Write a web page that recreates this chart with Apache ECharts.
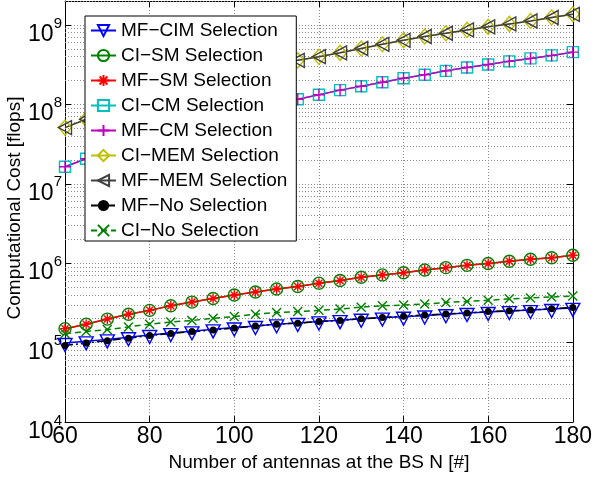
<!DOCTYPE html>
<html><head><meta charset="utf-8">
<script src="https://cdn.jsdelivr.net/npm/echarts@6/dist/echarts.min.js"></script>
<style>html,body{margin:0;padding:0;background:#fff}#c{width:595px;height:477px}</style>
</head><body><div id="c"></div>
<script>
const antennas = [60,65,70,75,80,85,90,95,100,105,110,115,120,125,130,135,140,145,150,155,160,165,170,175,180];
const mfCim = [9.9e4,1.04e5,1.10e5,1.17e5,1.25e5,1.32e5,1.39e5,1.47e5,1.55e5,1.62e5,1.70e5,1.77e5,1.85e5,1.92e5,2.00e5,2.07e5,2.12e5,2.20e5,2.28e5,2.36e5,2.43e5,2.50e5,2.57e5,2.65e5,2.74e5];
const ciSm = [1.50e5,1.71e5,1.98e5,2.28e5,2.55e5,2.91e5,3.24e5,3.59e5,3.98e5,4.34e5,4.73e5,5.10e5,5.61e5,6.05e5,6.65e5,7.13e5,7.60e5,8.20e5,8.80e5,9.40e5,9.90e5,1.06e6,1.12e6,1.17e6,1.26e6];
const mfSm = [1.50e5,1.71e5,1.98e5,2.28e5,2.55e5,2.91e5,3.24e5,3.59e5,3.98e5,4.34e5,4.73e5,5.10e5,5.61e5,6.05e5,6.65e5,7.13e5,7.60e5,8.20e5,8.80e5,9.40e5,9.90e5,1.06e6,1.12e6,1.17e6,1.26e6];
const ciCm = [1.64e7,2.07e7,2.60e7,3.20e7,3.89e7,4.66e7,5.54e7,6.51e7,7.59e7,8.79e7,1.01e8,1.16e8,1.32e8,1.51e8,1.69e8,1.90e8,2.13e8,2.36e8,2.64e8,2.91e8,3.17e8,3.48e8,3.79e8,4.13e8,4.54e8];
const mfCm = [1.64e7,2.07e7,2.60e7,3.20e7,3.89e7,4.66e7,5.54e7,6.51e7,7.59e7,8.79e7,1.01e8,1.16e8,1.32e8,1.51e8,1.69e8,1.90e8,2.13e8,2.36e8,2.64e8,2.91e8,3.17e8,3.48e8,3.79e8,4.13e8,4.54e8];
const ciMem = [5.1e7,6.5e7,8.0e7,9.9e7,1.20e8,1.44e8,1.70e8,2.00e8,2.34e8,2.71e8,3.11e8,3.58e8,3.98e8,4.45e8,5.05e8,5.70e8,6.40e8,7.15e8,7.85e8,8.65e8,9.45e8,1.03e9,1.12e9,1.24e9,1.36e9];
const mfMem = [5.1e7,6.5e7,8.0e7,9.9e7,1.20e8,1.44e8,1.70e8,2.00e8,2.34e8,2.71e8,3.11e8,3.58e8,3.98e8,4.45e8,5.05e8,5.70e8,6.40e8,7.15e8,7.85e8,8.65e8,9.45e8,1.03e9,1.12e9,1.24e9,1.36e9];
const mfNo = [9.2e4,9.9e4,1.06e5,1.14e5,1.23e5,1.30e5,1.38e5,1.44e5,1.53e5,1.62e5,1.71e5,1.76e5,1.85e5,1.90e5,2.00e5,2.07e5,2.15e5,2.23e5,2.30e5,2.37e5,2.46e5,2.52e5,2.58e5,2.67e5,2.78e5];
const ciNo = [1.30e5,1.38e5,1.46e5,1.58e5,1.71e5,1.82e5,1.90e5,2.03e5,2.13e5,2.28e5,2.39e5,2.46e5,2.55e5,2.65e5,2.80e5,2.91e5,2.97e5,3.06e5,3.21e5,3.30e5,3.42e5,3.56e5,3.66e5,3.76e5,3.87e5];
const seriesNames = ['MF\u2212CIM Selection','CI\u2212SM Selection','MF\u2212SM Selection','CI\u2212CM Selection','MF\u2212CM Selection','CI\u2212MEM Selection','MF\u2212MEM Selection','MF\u2212No Selection','CI\u2212No Selection'];
const xTicks = [60,80,100,120,140,160,180];
const yMinorTicks = [];
[1e4,1e5,1e6,1e7,1e8].forEach(d => { for (let k = 2; k <= 9; k++) yMinorTicks.push(k * d); });
yMinorTicks.push(2e9);

const FONT = 'Liberation Sans';
const pairs = arr => antennas.map((n, i) => [n, arr[i]]);

function mk(name, data, color, symbol, size, lineType, opts) {
  const hollow = !(opts && opts.filled);
  return Object.assign({
    name, type: 'line', data: pairs(data),
    symbol, symbolSize: size, showAllSymbol: true,
    lineStyle: { color, width: 1.5, type: lineType },
    itemStyle: hollow ? { color: 'rgba(0,0,0,0)', borderColor: color, borderWidth: 1.4 } : { color, borderColor: color, borderWidth: 0 },
    color, z: 3
  }, opts && opts.extra || {});
}

const series = [
  mk(seriesNames[0], mfCim, '#0000ff', 'path://M0,0 L10,0 L5,9 Z', [14, 13], 'solid', { extra: { symbolOffset: [0, 2] } }),
  mk(seriesNames[1], ciSm, '#008000', 'circle', 12, 'solid'),
  mk(seriesNames[2], mfSm, '#ff0000', 'path://M0,5 L10,5 M5,0 L5,10 M1.5,1.5 L8.5,8.5 M1.5,8.5 L8.5,1.5', 10, 'solid'),
  mk(seriesNames[3], ciCm, '#00bfbf', 'rect', 11, 'solid'),
  mk(seriesNames[4], mfCm, '#bf00bf', 'path://M5,0 L5,10 M0,5 L10,5', 12, 'solid'),
  mk(seriesNames[5], ciMem, '#bfbf00', 'diamond', [13, 15], 'solid'),
  mk(seriesNames[6], mfMem, '#404040', 'path://M10,0 L10,10 L0,5 Z', [13, 14], 'solid'),
  mk(seriesNames[7], mfNo, '#000000', 'circle', 7, [8, 3, 2, 3], { filled: true }),
  mk(seriesNames[8], ciNo, '#008000', 'path://M0,0 L10,10 M0,10 L10,0', 9, [6, 4])
];
series.push({
  type: 'line', data: [], silent: true,
  markLine: {
    silent: true, symbol: 'none', z: 1, animation: false,
    label: { show: false },
    lineStyle: { color: '#8c8c8c', type: [1, 2], width: 1 },
    data: yMinorTicks.map(v => ({ yAxis: v }))
  }
});

const chart = echarts.init(document.getElementById('c'), null, { renderer: 'canvas' });
chart.setOption({
  animation: false,
  backgroundColor: '#fff',
  grid: { left: 65, right: 18, top: 1, bottom: 48 },
  xAxis: [{
    type: 'value', min: 60, max: 180, interval: 20,
    name: 'Number of antennas at the BS N [#]', nameLocation: 'middle', nameGap: 25,
    nameTextStyle: { fontFamily: FONT, fontSize: 19, color: '#000' },
    axisLine: { lineStyle: { color: '#000', width: 1 } },
    axisTick: { inside: true, length: 6, lineStyle: { color: '#000' } },
    axisLabel: { fontFamily: FONT, fontSize: 23, color: '#000', margin: 3 },
    splitLine: { show: true, lineStyle: { color: '#8c8c8c', type: [1, 2], width: 1 } }
  }, {
    type: 'value', min: 60, max: 180, interval: 20, position: 'top',
    axisLine: { show: true, lineStyle: { color: '#000', width: 1 } },
    axisTick: { inside: true, length: 6, lineStyle: { color: '#000' } },
    axisLabel: { show: false }, splitLine: { show: false }
  }],
  yAxis: [{
    type: 'log', logBase: 10, min: 1e4, max: 2e9,
    axisLine: { show: true, lineStyle: { color: '#000', width: 1 } },
    axisTick: { inside: true, length: 6, lineStyle: { color: '#000' } },
    axisLabel: {
      showMaxLabel: false, margin: 3, padding: [12, 0, 0, 0],
      formatter: v => {
        const e = Math.round(Math.log10(v));
        if (Math.abs(Math.pow(10, e) - v) / v > 1e-6) return '';
        return '{b|10}{s|' + e + '}';
      },
      rich: {
        b: { fontFamily: FONT, fontSize: 23, color: '#000', lineHeight: 30, verticalAlign: 'bottom' },
        s: { fontFamily: FONT, fontSize: 15, color: '#000', verticalAlign: 'top' }
      }
    },
    splitLine: { show: true, lineStyle: { color: '#8c8c8c', type: [1, 2], width: 1 } }
  }, {
    type: 'log', logBase: 10, min: 1e4, max: 2e9, position: 'right',
    axisLine: { show: true, lineStyle: { color: '#000', width: 1 } },
    axisTick: { inside: true, length: 6, lineStyle: { color: '#000' } },
    axisLabel: { show: false }, splitLine: { show: false }
  }],
  legend: {
    left: 85, top: 16, orient: 'vertical',
    data: seriesNames,
    backgroundColor: '#fff', borderColor: '#000', borderWidth: 1, borderRadius: 0,
    padding: [5, 9, 1, 5],
    itemWidth: 25, itemHeight: 14, itemGap: 6,
    textStyle: { fontFamily: FONT, fontSize: 19, color: '#000' },
    selectedMode: false
  },
  graphic: [{
    type: 'text', x: 15, y: 208, rotation: Math.PI / 2,
    style: { text: 'Computational Cost [flops]', fontFamily: FONT, fontSize: 19, fill: '#000', align: 'center', verticalAlign: 'middle' }
  }],
  series
});
</script></body></html>
